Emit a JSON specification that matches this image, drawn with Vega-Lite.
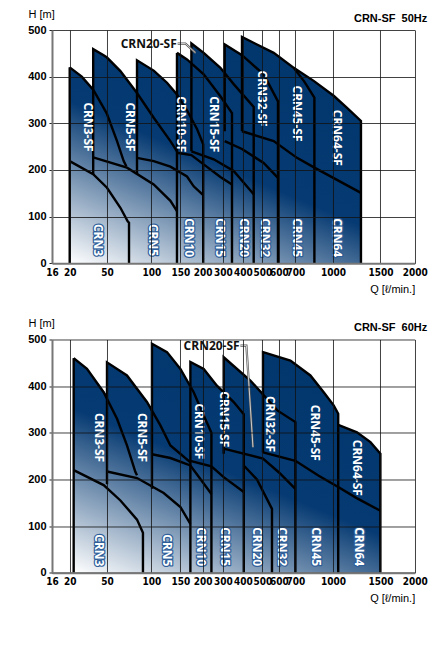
{
  "$schema": "https://vega.github.io/schema/vega-lite/v6.json",
  "padding": {"left": 27, "top": 8, "right": 5, "bottom": 5},
  "background": "white",
  "spacing": 22.5,
  "config": {"view": {"stroke": null}},
  "datasets": {
    "env50": [
      {"i":0,"q":20,"h":0},{"i":1,"q":20,"h":420},{"i":2,"q":29.7,"h":400},{"i":3,"q":38.9,"h":372},{"i":4,"q":38.9,"h":459},{"i":5,"q":47.3,"h":446},{"i":6,"q":50,"h":441},{"i":7,"q":65.1,"h":412},{"i":8,"q":83.8,"h":365},{"i":9,"q":83.8,"h":435},{"i":10,"q":104,"h":413},{"i":11,"q":126.9,"h":387},{"i":12,"q":144.1,"h":362},{"i":13,"q":144.1,"h":451},{"i":14,"q":164.8,"h":437},{"i":15,"q":174.7,"h":430},{"i":16,"q":174.7,"h":471},{"i":17,"q":204.9,"h":451},{"i":18,"q":287.2,"h":419},{"i":19,"q":308.5,"h":410},{"i":20,"q":308.5,"h":469},{"i":21,"q":395,"h":446},{"i":22,"q":395,"h":485},{"i":23,"q":472,"h":469},{"i":24,"q":568,"h":451},{"i":25,"q":689.6,"h":419},{"i":26,"q":846,"h":391},{"i":27,"q":1007,"h":359},{"i":28,"q":1148,"h":333},{"i":29,"q":1295,"h":305},{"i":30,"q":1295,"h":0}
    ],
    "shade50": [
      {"b":1,"i":0,"q":20,"h":0},{"b":1,"i":1,"q":20,"h":67.8},{"b":1,"i":2,"q":91.3,"h":0},
      {"b":2,"i":0,"q":20,"h":0},{"b":2,"i":1,"q":20,"h":135.5},{"b":2,"i":2,"q":273.9,"h":0},
      {"b":3,"i":0,"q":20,"h":0},{"b":3,"i":1,"q":20,"h":208},{"b":3,"i":2,"q":714,"h":0},
      {"b":4,"i":0,"q":20,"h":0},{"b":4,"i":1,"q":20,"h":276},{"b":4,"i":2,"q":1295,"h":9.5},{"b":4,"i":3,"q":1295,"h":0},
      {"b":5,"i":0,"q":20,"h":0},{"b":5,"i":1,"q":20,"h":346},{"b":5,"i":2,"q":1295,"h":80},{"b":5,"i":3,"q":1295,"h":0}
    ],
    "lines50": [
      {"s":1,"i":0,"q":20,"h":0},{"s":1,"i":1,"q":20,"h":420},
      {"s":2,"i":0,"q":20,"h":420},{"s":2,"i":1,"q":29.7,"h":400},{"s":2,"i":2,"q":38.9,"h":372},{"s":2,"i":3,"q":47.3,"h":333},{"s":2,"i":4,"q":50,"h":320},{"s":2,"i":5,"q":61.3,"h":262},{"s":2,"i":6,"q":68.8,"h":219},{"s":2,"i":7,"q":71.8,"h":208},
      {"s":3,"i":0,"q":20,"h":219},{"s":3,"i":1,"q":38.9,"h":191},{"s":3,"i":2,"q":50,"h":162},{"s":3,"i":3,"q":65.1,"h":119},{"s":3,"i":4,"q":73.3,"h":90},{"s":3,"i":5,"q":74.8,"h":87},{"s":3,"i":6,"q":74.8,"h":0},
      {"s":4,"i":0,"q":38.9,"h":191},{"s":4,"i":1,"q":38.9,"h":459},{"s":4,"i":2,"q":47.3,"h":446},{"s":4,"i":3,"q":50,"h":441},{"s":4,"i":4,"q":65.1,"h":412},{"s":4,"i":5,"q":83.8,"h":365},{"s":4,"i":6,"q":104,"h":312},{"s":4,"i":7,"q":132.8,"h":262},{"s":4,"i":8,"q":144.1,"h":240},
      {"s":5,"i":0,"q":144.1,"h":0},{"s":5,"i":1,"q":144.1,"h":451},
      {"s":6,"i":0,"q":38.9,"h":227},{"s":6,"i":1,"q":72.5,"h":205},{"s":6,"i":2,"q":104,"h":169},{"s":6,"i":3,"q":132.8,"h":134},{"s":6,"i":4,"q":144.1,"h":112},
      {"s":7,"i":0,"q":83.8,"h":191},{"s":7,"i":1,"q":83.8,"h":435},{"s":7,"i":2,"q":104,"h":413},{"s":7,"i":3,"q":126.9,"h":387},{"s":7,"i":4,"q":144.1,"h":362},{"s":7,"i":5,"q":164.8,"h":328},{"s":7,"i":6,"q":187.2,"h":288},{"s":7,"i":7,"q":202.5,"h":255},{"s":7,"i":8,"q":202.5,"h":0},
      {"s":8,"i":0,"q":83.8,"h":226},{"s":8,"i":1,"q":104,"h":219},{"s":8,"i":2,"q":132.8,"h":207},{"s":8,"i":3,"q":164.8,"h":186},{"s":8,"i":4,"q":179.8,"h":165},{"s":8,"i":5,"q":202.5,"h":146},
      {"s":9,"i":0,"q":144.1,"h":451},{"s":9,"i":1,"q":164.8,"h":437},{"s":9,"i":2,"q":204.9,"h":405},{"s":9,"i":3,"q":287.2,"h":358},{"s":9,"i":4,"q":345,"h":322},{"s":9,"i":5,"q":345,"h":0},
      {"s":10,"i":0,"q":144.1,"h":237},{"s":10,"i":1,"q":174.7,"h":232},{"s":10,"i":2,"q":204.9,"h":212},{"s":10,"i":3,"q":287.2,"h":185},{"s":10,"i":4,"q":345,"h":169},
      {"s":11,"i":0,"q":174.7,"h":240},{"s":11,"i":1,"q":174.7,"h":471},{"s":11,"i":2,"q":204.9,"h":451},{"s":11,"i":3,"q":287.2,"h":419},{"s":11,"i":4,"q":353.5,"h":384},{"s":11,"i":5,"q":455.2,"h":335},{"s":11,"i":6,"q":455.2,"h":0},
      {"s":12,"i":0,"q":174.7,"h":240},{"s":12,"i":1,"q":254.2,"h":223},{"s":12,"i":2,"q":353.5,"h":198},{"s":12,"i":3,"q":455.2,"h":148},
      {"s":13,"i":0,"q":308.5,"h":283},{"s":13,"i":1,"q":308.5,"h":469},{"s":13,"i":2,"q":395,"h":446},{"s":13,"i":3,"q":507.8,"h":405},{"s":13,"i":4,"q":593.9,"h":347},{"s":13,"i":5,"q":593.9,"h":0},
      {"s":14,"i":0,"q":308.5,"h":262},{"s":14,"i":1,"q":395,"h":245},{"s":14,"i":2,"q":507.8,"h":215},{"s":14,"i":3,"q":593.9,"h":183},
      {"s":15,"i":0,"q":395,"h":283},{"s":15,"i":1,"q":395,"h":485},{"s":15,"i":2,"q":472,"h":469},{"s":15,"i":3,"q":568,"h":451},{"s":15,"i":4,"q":689.6,"h":419},{"s":15,"i":5,"q":770,"h":390},{"s":15,"i":6,"q":851.6,"h":355},{"s":15,"i":7,"q":851.6,"h":0},
      {"s":16,"i":0,"q":395,"h":283},{"s":16,"i":1,"q":568,"h":262},{"s":16,"i":2,"q":712.8,"h":226},{"s":16,"i":3,"q":851.6,"h":205},{"s":16,"i":4,"q":1295,"h":151},
      {"s":17,"i":0,"q":689.6,"h":419},{"s":17,"i":1,"q":846,"h":391},{"s":17,"i":2,"q":1007,"h":359},{"s":17,"i":3,"q":1148,"h":333},{"s":17,"i":4,"q":1295,"h":305},{"s":17,"i":5,"q":1295,"h":0}
    ],
    "lab50": [
      {"t":"CRN3-SF","k":"sf","q":34.5,"h":292},{"t":"CRN5-SF","k":"sf","q":76.4,"h":292},{"t":"CRN10-SF","k":"sf","q":152.2,"h":298},{"t":"CRN15-SF","k":"sf","q":254,"h":298},{"t":"CRN32-SF","k":"sf","q":498,"h":353},{"t":"CRN45-SF","k":"sf","q":712.8,"h":321},{"t":"CRN64-SF","k":"sf","q":1042,"h":269},
      {"t":"CRN3","k":"std","q":42.8,"h":50},{"t":"CRN5","k":"std","q":102.8,"h":50},{"t":"CRN10","k":"std","q":170.2,"h":55},{"t":"CRN15","k":"std","q":283.7,"h":55},{"t":"CRN20","k":"std","q":403.6,"h":55},{"t":"CRN32","k":"std","q":518,"h":55},{"t":"CRN45","k":"std","q":712.8,"h":55},{"t":"CRN64","k":"std","q":1042,"h":55}
    ],
    "call50": [{"t":"CRN20-SF","q":97,"h":470}],
    "lead50": [{"i":0,"q":145.3,"h":471},{"i":1,"q":161.2,"h":471},{"i":2,"q":184,"h":451}],
    "env60": [
      {"i":0,"q":23.2,"h":0},{"i":1,"q":23.2,"h":460},{"i":2,"q":33.9,"h":437},{"i":3,"q":47.3,"h":390},{"i":4,"q":50,"h":380},{"i":5,"q":50,"h":451},{"i":6,"q":72.5,"h":423},{"i":7,"q":95,"h":366},{"i":8,"q":101,"h":352},{"i":9,"q":101,"h":491},{"i":10,"q":126.9,"h":473},{"i":11,"q":150,"h":437},{"i":12,"q":172.4,"h":400},{"i":13,"q":172.4,"h":452},{"i":14,"q":204.9,"h":437},{"i":15,"q":270,"h":401},{"i":16,"q":303.5,"h":386},{"i":17,"q":303.5,"h":462},{"i":18,"q":438,"h":412},{"i":19,"q":503.6,"h":385},{"i":20,"q":503.6,"h":473},{"i":21,"q":669.5,"h":455},{"i":22,"q":819.6,"h":423},{"i":23,"q":926,"h":387},{"i":24,"q":1007,"h":359},{"i":25,"q":1055,"h":342},{"i":26,"q":1055,"h":317},{"i":27,"q":1253,"h":301},{"i":28,"q":1395,"h":280},{"i":29,"q":1500,"h":255},{"i":30,"q":1500,"h":0}
    ],
    "shade60": [
      {"b":1,"i":0,"q":23.2,"h":0},{"b":1,"i":1,"q":23.2,"h":68.7},{"b":1,"i":2,"q":100.3,"h":0},
      {"b":2,"i":0,"q":23.2,"h":0},{"b":2,"i":1,"q":23.2,"h":137.5},{"b":2,"i":2,"q":333.5,"h":0},
      {"b":3,"i":0,"q":23.2,"h":0},{"b":3,"i":1,"q":23.2,"h":211},{"b":3,"i":2,"q":844.6,"h":0},
      {"b":4,"i":0,"q":23.2,"h":0},{"b":4,"i":1,"q":23.2,"h":280},{"b":4,"i":2,"q":1500,"h":9.8},{"b":4,"i":3,"q":1500,"h":0},
      {"b":5,"i":0,"q":23.2,"h":0},{"b":5,"i":1,"q":23.2,"h":351.5},{"b":5,"i":2,"q":1500,"h":81.4},{"b":5,"i":3,"q":1500,"h":0}
    ],
    "lines60": [
      {"s":1,"i":0,"q":23.2,"h":0},{"s":1,"i":1,"q":23.2,"h":460},
      {"s":2,"i":0,"q":23.2,"h":460},{"s":2,"i":1,"q":33.9,"h":437},{"s":2,"i":2,"q":47.3,"h":387},{"s":2,"i":3,"q":61.3,"h":330},{"s":2,"i":4,"q":72.5,"h":273},{"s":2,"i":5,"q":82,"h":216},{"s":2,"i":6,"q":83.8,"h":209},
      {"s":3,"i":0,"q":23.2,"h":220},{"s":3,"i":1,"q":47.3,"h":188},{"s":3,"i":2,"q":65.1,"h":155},{"s":3,"i":3,"q":83.8,"h":114},{"s":3,"i":4,"q":90.5,"h":86},{"s":3,"i":5,"q":90.5,"h":0},
      {"s":4,"i":0,"q":50,"h":190},{"s":4,"i":1,"q":50,"h":451},{"s":4,"i":2,"q":72.5,"h":423},{"s":4,"i":3,"q":95,"h":366},{"s":4,"i":4,"q":115.5,"h":316},{"s":4,"i":5,"q":132.8,"h":273},{"s":4,"i":6,"q":172.4,"h":237},{"s":4,"i":7,"q":172.4,"h":0},
      {"s":5,"i":0,"q":50,"h":217},{"s":5,"i":1,"q":83.8,"h":203},{"s":5,"i":2,"q":121.2,"h":171},{"s":5,"i":3,"q":150,"h":141},{"s":5,"i":4,"q":172.4,"h":105},
      {"s":6,"i":0,"q":101,"h":180},{"s":6,"i":1,"q":101,"h":491},{"s":6,"i":2,"q":126.9,"h":473},{"s":6,"i":3,"q":150,"h":437},{"s":6,"i":4,"q":179.8,"h":387},{"s":6,"i":5,"q":204.9,"h":337},{"s":6,"i":6,"q":243,"h":300},{"s":6,"i":7,"q":243,"h":0},
      {"s":7,"i":0,"q":101,"h":254},{"s":7,"i":1,"q":132.8,"h":246},{"s":7,"i":2,"q":172.4,"h":230},{"s":7,"i":3,"q":194.8,"h":201},{"s":7,"i":4,"q":243,"h":169},
      {"s":8,"i":0,"q":172.4,"h":237},{"s":8,"i":1,"q":172.4,"h":452},{"s":8,"i":2,"q":204.9,"h":437},{"s":8,"i":3,"q":270,"h":401},{"s":8,"i":4,"q":353.5,"h":366},{"s":8,"i":5,"q":404,"h":340},{"s":8,"i":6,"q":404,"h":0},
      {"s":9,"i":0,"q":172.4,"h":240},{"s":9,"i":1,"q":243,"h":228},{"s":9,"i":2,"q":303.5,"h":205},{"s":9,"i":3,"q":404,"h":173},
      {"s":10,"i":0,"q":303.5,"h":255},{"s":10,"i":1,"q":303.5,"h":462},{"s":10,"i":2,"q":438,"h":412},{"s":10,"i":3,"q":590,"h":348},{"s":10,"i":4,"q":700,"h":323},{"s":10,"i":5,"q":700,"h":0},
      {"s":11,"i":0,"q":404,"h":230},{"s":11,"i":1,"q":472,"h":200},{"s":11,"i":2,"q":557.8,"h":137},{"s":11,"i":3,"q":557.8,"h":0},
      {"s":12,"i":0,"q":303.5,"h":266},{"s":12,"i":1,"q":503.6,"h":245},{"s":12,"i":2,"q":600,"h":215},{"s":12,"i":3,"q":700,"h":180},
      {"s":13,"i":0,"q":503.6,"h":258},{"s":13,"i":1,"q":503.6,"h":473},{"s":13,"i":2,"q":669.5,"h":455},{"s":13,"i":3,"q":819.6,"h":423},{"s":13,"i":4,"q":926,"h":387},{"s":13,"i":5,"q":1007,"h":359},{"s":13,"i":6,"q":1055,"h":341},{"s":13,"i":7,"q":1055,"h":0},
      {"s":14,"i":0,"q":503.6,"h":258},{"s":14,"i":1,"q":700,"h":240},{"s":14,"i":2,"q":886,"h":208},{"s":14,"i":3,"q":1055,"h":184},
      {"s":15,"i":0,"q":1055,"h":317},{"s":15,"i":1,"q":1253,"h":301},{"s":15,"i":2,"q":1395,"h":280},{"s":15,"i":3,"q":1500,"h":255},{"s":15,"i":4,"q":1500,"h":0},
      {"s":16,"i":0,"q":1055,"h":184},{"s":16,"i":1,"q":1250,"h":160},{"s":16,"i":2,"q":1500,"h":133}
    ],
    "lab60": [
      {"t":"CRN3-SF","k":"sf","q":43.3,"h":290},{"t":"CRN5-SF","k":"sf","q":89.5,"h":290},{"t":"CRN10-SF","k":"sf","q":191.7,"h":303},{"t":"CRN15-SF","k":"sf","q":307,"h":329},{"t":"CRN32-SF","k":"sf","q":548,"h":319},{"t":"CRN45-SF","k":"sf","q":856,"h":300},{"t":"CRN64-SF","k":"sf","q":1253,"h":225},
      {"t":"CRN3","k":"std","q":43.3,"h":48},{"t":"CRN5","k":"std","q":126.9,"h":48},{"t":"CRN10","k":"std","q":196.9,"h":56},{"t":"CRN15","k":"std","q":312,"h":56},{"t":"CRN20","k":"std","q":472,"h":56},{"t":"CRN32","k":"std","q":618,"h":56},{"t":"CRN45","k":"std","q":868,"h":56},{"t":"CRN64","k":"std","q":1271,"h":56}
    ],
    "call60": [{"t":"CRN20-SF","q":244,"h":485}],
    "lead60": [{"i":0,"q":387,"h":487},{"i":1,"q":417.5,"h":487},{"i":2,"q":451.5,"h":269}]
  },
  "vconcat": [
    {
      "width": 362.7,
      "height": 233.3,
      "title": {"text": "CRN-SF\u00a0\u00a050Hz", "anchor": "end", "font": "Liberation Sans", "fontSize": 11, "fontWeight": "bold", "color": "#000", "offset": -15},
      "encoding": {
        "x": {"field": "q", "type": "quantitative",
          "scale": {"domain": [16,20,50,100,150,200,300,400,500,600,700,1000,1500,2000], "range": [0,17.7,55,99.4,128.4,150.7,171,191,210.4,227,243.4,281,328.4,362.7], "nice": false, "zero": false},
          "axis": {"values": [16,20,50,100,150,200,300,400,500,600,700,1000,1500,2000], "format": "d", "title": "Q [ℓ/min.]", "grid": true, "gridColor": "#111", "gridWidth": 0.8, "ticks": false, "domainColor": "#777", "domainWidth": 2, "labelFont": "Liberation Sans Narrow, DejaVu Sans Condensed, sans-serif", "labelFontWeight": "bold", "labelFontSize": 10, "labelColor": "#000", "labelPadding": 4, "labelFlush": false, "labelOverlap": false, "titleFont": "Liberation Sans", "titleFontWeight": "normal", "titleFontSize": 11, "titleColor": "#000", "titleAlign": "right", "titleX": 362.7, "titleY": 29, "titleBaseline": "alphabetic", "zindex": 1}},
        "y": {"field": "h", "type": "quantitative",
          "scale": {"domain": [0, 500], "nice": false},
          "axis": {"values": [0,100,200,300,400,500], "title": "H [m]", "grid": true, "gridColor": "#111", "gridWidth": 0.8, "tickSize": 3, "tickColor": "#222", "domainColor": "#777", "domainWidth": 2, "labelFont": "Liberation Sans", "labelFontWeight": "bold", "labelFontSize": 11, "labelColor": "#000", "labelPadding": 3, "titleFont": "Liberation Sans", "titleFontWeight": "normal", "titleFontSize": 11, "titleColor": "#000", "titleAngle": 0, "titleAlign": "left", "titleX": -24, "titleY": -12.5, "titleBaseline": "alphabetic", "zindex": 1}}
      },
      "layer": [
        {"data": {"name": "env50"}, "mark": {"type": "line", "fill": "#063a72", "strokeWidth": 0}, "encoding": {"order": {"field": "i"}}},
        {"data": {"name": "shade50"}, "mark": {"type": "line", "fill": "#ffffff", "strokeWidth": 0}, "encoding": {"order": {"field": "i"}, "opacity": {"field": "b", "type": "ordinal", "scale": {"domain": [1,2,3,4,5], "range": [0.655,0.42,0.286,0.222,0.1]}, "legend": null}}},
        {"data": {"name": "env50"}, "mark": {"type": "line", "strokeWidth": 0, "fill": {"gradient": "linear", "x1": 0, "y1": 1, "x2": 0.55, "y2": 0, "stops": [{"offset": 0, "color": "#ffffff"}, {"offset": 0.55, "color": "#063a72"}, {"offset": 1, "color": "#02376e"}]}}, "encoding": {"order": {"field": "i"}}},
        {"data": {"name": "lines50"}, "mark": {"type": "line", "color": "#000", "strokeWidth": 2.4}, "encoding": {"detail": {"field": "s"}, "order": {"field": "i"}}},
        {"data": {"name": "lab50"}, "transform": [{"filter": "datum.k == 'std'"}], "mark": {"type": "text", "angle": 90, "font": "Open Sans", "fontWeight": "bold", "fontSize": 12, "align": "center", "baseline": "middle", "fill": "#2f5f9a", "stroke": "#2f5f9a", "strokeWidth": 2.5, "strokeJoin": "round"}, "encoding": {"text": {"field": "t"}}},
        {"data": {"name": "lab50"}, "mark": {"type": "text", "angle": 90, "font": "Open Sans", "fontWeight": "bold", "fontSize": 12, "align": "center", "baseline": "middle", "fill": "#ffffff"}, "encoding": {"text": {"field": "t"}}},
        {"data": {"name": "lead50"}, "mark": {"type": "line", "color": "#555", "strokeWidth": 2.2}, "encoding": {"order": {"field": "i"}}},
        {"data": {"name": "lead50"}, "mark": {"type": "line", "color": "#fff", "strokeWidth": 0.7}, "encoding": {"order": {"field": "i"}}},
        {"data": {"name": "call50"}, "mark": {"type": "text", "font": "Open Sans", "fontWeight": "bold", "fontSize": 12, "align": "center", "baseline": "middle", "fill": "#111"}, "encoding": {"text": {"field": "t"}}}
      ]
    },
    {
      "width": 362.7,
      "height": 233.3,
      "title": {"text": "CRN-SF\u00a0\u00a060Hz", "anchor": "end", "font": "Liberation Sans", "fontSize": 11, "fontWeight": "bold", "color": "#000", "offset": -15},
      "encoding": {
        "x": {"field": "q", "type": "quantitative",
          "scale": {"domain": [16,20,50,100,150,200,300,400,500,600,700,1000,1500,2000], "range": [0,17.7,55,99.4,128.4,150.7,171,191,210.4,227,243.4,281,328.4,362.7], "nice": false, "zero": false},
          "axis": {"values": [16,20,50,100,150,200,300,400,500,600,700,1000,1500,2000], "format": "d", "title": "Q [ℓ/min.]", "grid": true, "gridColor": "#111", "gridWidth": 0.8, "ticks": false, "domainColor": "#777", "domainWidth": 2, "labelFont": "Liberation Sans Narrow, DejaVu Sans Condensed, sans-serif", "labelFontWeight": "bold", "labelFontSize": 10, "labelColor": "#000", "labelPadding": 4, "labelFlush": false, "labelOverlap": false, "titleFont": "Liberation Sans", "titleFontWeight": "normal", "titleFontSize": 11, "titleColor": "#000", "titleAlign": "right", "titleX": 362.7, "titleY": 29, "titleBaseline": "alphabetic", "zindex": 1}},
        "y": {"field": "h", "type": "quantitative",
          "scale": {"domain": [0, 500], "nice": false},
          "axis": {"values": [0,100,200,300,400,500], "title": "H [m]", "grid": true, "gridColor": "#111", "gridWidth": 0.8, "tickSize": 3, "tickColor": "#222", "domainColor": "#777", "domainWidth": 2, "labelFont": "Liberation Sans", "labelFontWeight": "bold", "labelFontSize": 11, "labelColor": "#000", "labelPadding": 3, "titleFont": "Liberation Sans", "titleFontWeight": "normal", "titleFontSize": 11, "titleColor": "#000", "titleAngle": 0, "titleAlign": "left", "titleX": -24, "titleY": -12.5, "titleBaseline": "alphabetic", "zindex": 1}}
      },
      "layer": [
        {"data": {"name": "env60"}, "mark": {"type": "line", "fill": "#063a72", "strokeWidth": 0}, "encoding": {"order": {"field": "i"}}},
        {"data": {"name": "shade60"}, "mark": {"type": "line", "fill": "#ffffff", "strokeWidth": 0}, "encoding": {"order": {"field": "i"}, "opacity": {"field": "b", "type": "ordinal", "scale": {"domain": [1,2,3,4,5], "range": [0.655,0.42,0.286,0.222,0.1]}, "legend": null}}},
        {"data": {"name": "env60"}, "mark": {"type": "line", "strokeWidth": 0, "fill": {"gradient": "linear", "x1": 0, "y1": 1, "x2": 0.55, "y2": 0, "stops": [{"offset": 0, "color": "#ffffff"}, {"offset": 0.55, "color": "#063a72"}, {"offset": 1, "color": "#02376e"}]}}, "encoding": {"order": {"field": "i"}}},
        {"data": {"name": "lines60"}, "mark": {"type": "line", "color": "#000", "strokeWidth": 2.4}, "encoding": {"detail": {"field": "s"}, "order": {"field": "i"}}},
        {"data": {"name": "lab60"}, "transform": [{"filter": "datum.k == 'std'"}], "mark": {"type": "text", "angle": 90, "font": "Open Sans", "fontWeight": "bold", "fontSize": 12, "align": "center", "baseline": "middle", "fill": "#2f5f9a", "stroke": "#2f5f9a", "strokeWidth": 2.5, "strokeJoin": "round"}, "encoding": {"text": {"field": "t"}}},
        {"data": {"name": "lab60"}, "mark": {"type": "text", "angle": 90, "font": "Open Sans", "fontWeight": "bold", "fontSize": 12, "align": "center", "baseline": "middle", "fill": "#ffffff"}, "encoding": {"text": {"field": "t"}}},
        {"data": {"name": "lead60"}, "mark": {"type": "line", "color": "#555", "strokeWidth": 2.2}, "encoding": {"order": {"field": "i"}}},
        {"data": {"name": "lead60"}, "mark": {"type": "line", "color": "#fff", "strokeWidth": 0.7}, "encoding": {"order": {"field": "i"}}},
        {"data": {"name": "call60"}, "mark": {"type": "text", "font": "Open Sans", "fontWeight": "bold", "fontSize": 12, "align": "center", "baseline": "middle", "fill": "#111"}, "encoding": {"text": {"field": "t"}}}
      ]
    }
  ]
}
